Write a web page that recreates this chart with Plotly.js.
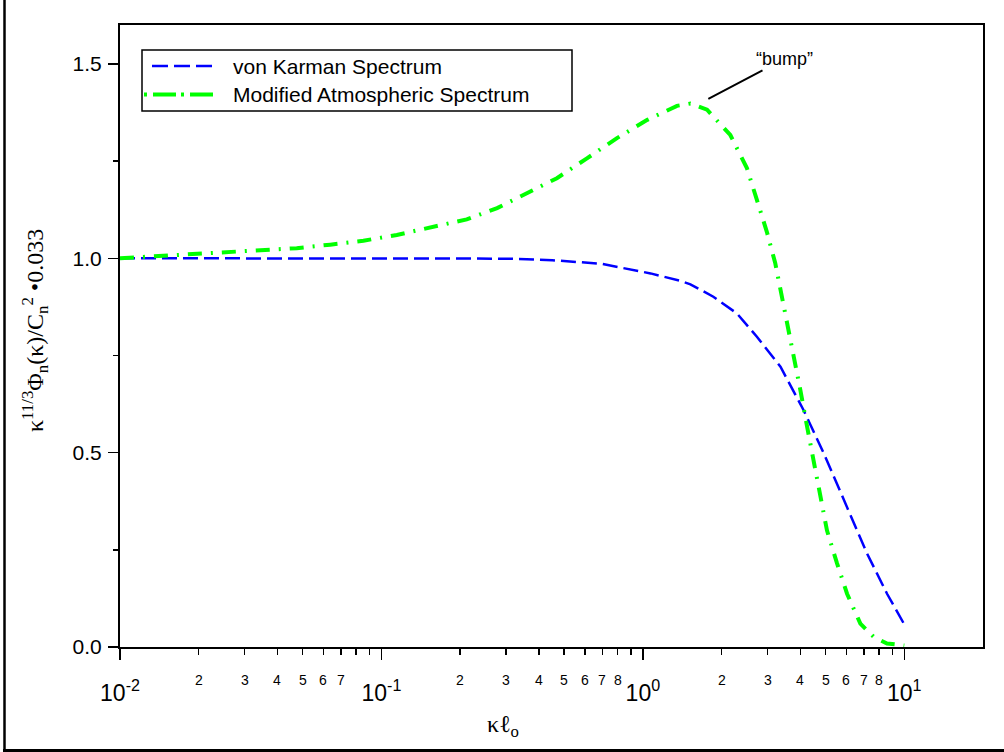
<!DOCTYPE html>
<html>
<head>
<meta charset="utf-8">
<script src="https://cdn.plot.ly/plotly-3.0.1.min.js"></script>
<style>
  html, body { margin: 0; padding: 0; background: #fff; }
  #chart { width: 1004px; height: 752px; }
</style>
</head>
<body>
<div id="chart"></div>
<script>
// Normalised spectra versus kappa * l0
const vkX = [0.01, 0.03, 0.1, 0.2, 0.3, 0.45, 0.69, 1.07, 1.39, 1.52, 1.86, 2.29, 2.73, 3.36, 4.12, 4.92, 6.04, 7.21, 8.59, 10];
const vkY = [1.0, 1.0, 1.0, 1.0, 0.999, 0.995, 0.986, 0.961, 0.942, 0.933, 0.901, 0.858, 0.798, 0.721, 0.609, 0.498, 0.360, 0.240, 0.137, 0.058];

const masX = [0.01, 0.0134, 0.0196, 0.0264, 0.0353, 0.0474, 0.0637, 0.0853, 0.1145, 0.158, 0.212, 0.277, 0.36, 0.469, 0.611, 0.796, 1.04, 1.35, 1.52, 1.76, 2.16, 2.5, 2.73, 2.98, 3.21, 3.41, 3.61, 3.85, 4.0, 4.25, 4.5, 4.77, 5.06, 5.53, 6.04, 6.79, 7.64, 8.59, 10];
const masY = [1.0, 1.005, 1.01, 1.015, 1.02, 1.026, 1.035, 1.045, 1.060, 1.081, 1.100, 1.129, 1.167, 1.206, 1.257, 1.309, 1.356, 1.392, 1.398, 1.382, 1.317, 1.232, 1.150, 1.068, 0.987, 0.901, 0.815, 0.722, 0.662, 0.566, 0.481, 0.395, 0.300, 0.215, 0.137, 0.060, 0.026, 0.009, 0.004];

const seriesNames = ['von Karman Spectrum', 'Modified Atmospheric Spectrum'];

// Axis ticks and labels
const xMajorVals = [0.01, 0.1, 1, 10];
const xMajorText = ['10<sup>-2</sup>', '10<sup>-1</sup>', '10<sup>0</sup>', '10<sup>1</sup>'];
const xMinorVals = [0.02, 0.03, 0.04, 0.05, 0.06, 0.07, 0.08, 0.09,
                    0.2, 0.3, 0.4, 0.5, 0.6, 0.7, 0.8, 0.9,
                    2, 3, 4, 5, 6, 7, 8, 9];
const xMinorLabelVals = [0.02, 0.03, 0.04, 0.05, 0.06, 0.07,
                         0.2, 0.3, 0.4, 0.5, 0.6, 0.7, 0.8,
                         2, 3, 4, 5, 6, 7, 8];
const xMinorLabelText = ['2', '3', '4', '5', '6', '7',
                         '2', '3', '4', '5', '6', '7', '8',
                         '2', '3', '4', '5', '6', '7', '8'];
const yTickVals = [0, 0.5, 1.0, 1.5];
const yTickText = ['0.0', '0.5', '1.0', '1.5'];
const yMinorVals = [0.25, 0.75, 1.25];

const peakLabel = '\u201cbump\u201d';
const peakPoint = [1.78, 1.41];

const SANS = 'Liberation Sans, Arial, sans-serif';
const SERIF = 'Liberation Serif, Times New Roman, serif';
const BLUE = '#0000ff';
const GREEN = '#00ff00';
const BLUE_DASH = '15px,6px';
const GREEN_DASH = '14px,9px,2px,9px';

// plot area in pixels: left 120, right 983, top 25, bottom 647
const W = 1004, H = 752, L = 120, R = 983, T = 25, B = 647;
const px = v => (v - L) / (R - L);
const py = v => (B - v) / (B - T);

const traces = [
  { x: vkX, y: vkY, name: seriesNames[0], type: 'scatter', mode: 'lines',
    line: { color: BLUE, width: 2.5, dash: BLUE_DASH }, showlegend: false },
  { x: masX, y: masY, name: seriesNames[1], type: 'scatter', mode: 'lines',
    line: { color: GREEN, width: 4, dash: GREEN_DASH }, showlegend: false }
];

const annotations = [];
xMinorLabelVals.forEach((v, i) => {
  annotations.push({ x: Math.log10(v), xref: 'x', y: py(680), yref: 'paper',
    text: xMinorLabelText[i], showarrow: false, xanchor: 'center', yanchor: 'middle',
    font: { family: SANS, size: 14, color: '#000' } });
});

// legend text
annotations.push({ x: px(231), y: py(66), xref: 'paper', yref: 'paper', text: seriesNames[0],
  showarrow: false, xanchor: 'left', yanchor: 'middle', font: { family: SANS, size: 21, color: '#000' } });
annotations.push({ x: px(231), y: py(94.5), xref: 'paper', yref: 'paper', text: seriesNames[1],
  showarrow: false, xanchor: 'left', yanchor: 'middle', font: { family: SANS, size: 21, color: '#000' } });

// axis titles
annotations.push({ x: px(35), y: py(331), xref: 'paper', yref: 'paper', textangle: -90,
  text: '\u03ba<sup>11/3</sup>\u03a6<sub>n</sub>(\u03ba)/C<sub>n</sub><sup>2</sup> \u20220.033',
  showarrow: false, xanchor: 'center', yanchor: 'middle', font: { family: SERIF, size: 24, color: '#000' } });
annotations.push({ x: px(503), y: py(726), xref: 'paper', yref: 'paper',
  text: '\u03ba\u2113<sub>o</sub>',
  showarrow: false, xanchor: 'center', yanchor: 'middle', font: { family: SERIF, size: 24, color: '#000' } });

// peak callout
annotations.push({ x: Math.log10(peakPoint[0]), y: peakPoint[1], xref: 'x', yref: 'y',
  text: peakLabel, showarrow: true, arrowhead: 0, arrowwidth: 2, arrowcolor: '#000',
  ax: 76, ay: -40, font: { family: SANS, size: 18, color: '#000' } });

const shapes = [
  // legend frame and samples
  { type: 'rect', xref: 'paper', yref: 'paper', x0: px(142), x1: px(572), y0: py(111), y1: py(50),
    line: { color: '#000', width: 1.5 }, fillcolor: 'rgba(0,0,0,0)' },
  { type: 'line', xref: 'paper', yref: 'paper', x0: px(152), x1: px(213), y0: py(66), y1: py(66),
    line: { color: BLUE, width: 2.5, dash: '16px,6px' } },
  { type: 'line', xref: 'paper', yref: 'paper', x0: px(144), x1: px(213), y0: py(94.5), y1: py(94.5),
    line: { color: GREEN, width: 4, dash: '3px,6px,23px,5px' } },
  // outer frame (left and bottom edges)
  { type: 'line', xref: 'paper', yref: 'paper', x0: px(4.5), x1: px(4.5), y0: py(-2), y1: py(751),
    line: { color: '#000', width: 2.5 } },
  { type: 'line', xref: 'paper', yref: 'paper', x0: px(3), x1: px(1006), y0: py(750.5), y1: py(750.5),
    line: { color: '#000', width: 3 } }
];

const layout = {
  width: W, height: H,
  margin: { l: L, r: W - R, t: T, b: H - B, pad: 0 },
  paper_bgcolor: '#fff', plot_bgcolor: '#fff',
  showlegend: false,
  xaxis: {
    type: 'log', range: [-2, Math.log10(20)],
    tickmode: 'array', tickvals: xMajorVals, ticktext: xMajorText,
    ticks: 'outside', ticklen: 11, tickwidth: 1.5, tickcolor: '#000',
    tickfont: { family: SANS, size: 23, color: '#000' }, ticklabelstandoff: 13,
    minor: { tickmode: 'array', tickvals: xMinorVals, ticks: 'outside', ticklen: 6,
             tickwidth: 1.5, tickcolor: '#000', showgrid: false },
    showline: true, linecolor: '#000', linewidth: 2, mirror: true,
    showgrid: false, zeroline: false
  },
  yaxis: {
    range: [0, 1.6],
    tickmode: 'array', tickvals: yTickVals, ticktext: yTickText,
    ticks: 'outside', ticklen: 10, tickwidth: 1.5, tickcolor: '#000',
    tickfont: { family: SANS, size: 21, color: '#000' }, ticklabelstandoff: 2,
    minor: { tickmode: 'array', tickvals: yMinorVals, ticks: 'outside', ticklen: 5,
             tickwidth: 1.5, tickcolor: '#000', showgrid: false },
    showline: true, linecolor: '#000', linewidth: 2, mirror: true,
    showgrid: false, zeroline: false
  },
  annotations: annotations,
  shapes: shapes
};

Plotly.newPlot('chart', traces, layout, { staticPlot: true, displayModeBar: false });
</script>
</body>
</html>
